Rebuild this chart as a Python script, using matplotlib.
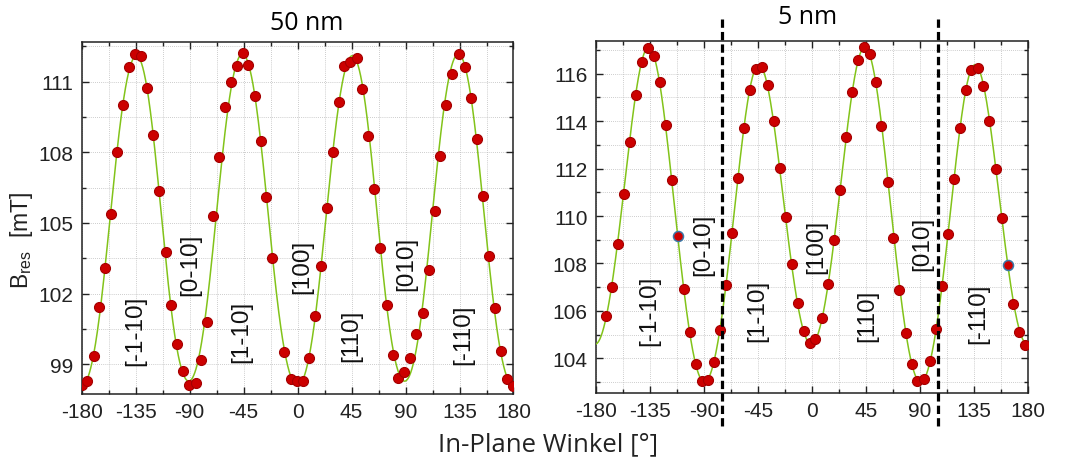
import numpy as np
import matplotlib
matplotlib.use("Agg")
import matplotlib.pyplot as plt
from matplotlib.ticker import MultipleLocator, FixedLocator
from matplotlib.transforms import blended_transform_factory

plt.rcParams["font.family"] = ["Liberation Sans", "DejaVu Sans"]
plt.rcParams["axes.unicode_minus"] = False
plt.rcParams["mathtext.fontset"] = "custom"
plt.rcParams["mathtext.rm"] = "Liberation Sans"

# ---------------- 50 nm film: resonance field vs in-plane angle ----------------
angle_50nm = [-180.0, -175.3, -170.0, -165.3, -160.3, -155.3, -150.3, -145.3, -140.3,
              -135.3, -130.3, -125.3, -120.3, -115.3, -110.0, -105.3, -100.3, -95.3,
              -90.3, -85.0, -80.6, -75.6, -70.6, -65.6, -60.3, -55.6, -50.6, -45.6,
              -41.1, -35.6, -30.6, -26.4, -21.1, -11.4, -5.8, -0.6, 4.4, 9.4, 14.4,
              19.2, 24.7, 29.2, 34.7, 38.9, 43.6, 49.2, 53.9, 58.9, 63.9, 68.6, 74.2,
              79.2, 83.3, 88.9, 93.9, 98.6, 104.2, 109.7, 114.4, 118.6, 123.6, 128.6,
              134.7, 139.7, 144.4, 149.4, 154.4, 159.2, 164.4, 169.2, 174.2, 179.7]
bres_50nm = [98.11, 98.29, 99.35, 101.41, 103.10, 105.38, 108.01, 110.01, 111.61,
             112.20, 112.08, 110.72, 108.74, 106.36, 103.78, 101.53, 99.85, 98.70,
             98.11, 98.18, 99.18, 100.80, 105.30, 107.82, 109.91, 111.00, 111.65, 112.22,
             111.71, 110.41, 108.49, 106.10, 103.53, 99.50, 98.36, 98.29, 98.29, 99.25, 101.05,
             103.18, 105.62, 108.01, 110.15, 111.68, 111.86, 112.00, 110.69, 108.71, 106.44, 103.95, 101.50,
             99.40, 98.39, 98.65, 99.28, 100.30, 101.17, 103.00, 105.51, 107.86, 110.02, 111.35,
             112.20, 111.64, 110.32, 108.58, 106.13, 103.60, 101.40, 99.54, 98.35, 98.07]

# ---------------- 5 nm film ----------------
angle_5nm = [-171.3, -166.6, -161.6, -156.6, -151.6, -146.7, -141.4, -136.7, -131.7,
             -126.4, -121.7, -116.4, -106.2, -101.5, -96.5, -91.8, -86.2, -81.8,
             -76.2, -71.2, -66.5, -61.8, -56.6, -51.8, -46.6, -41.6, -36.9, -31.6, -26.9,
             -21.6, -16.6, -11.9, -6.9, -1.9, 2.8, 8.3, 13.3, 18.0, 23.6, 28.3, 33.3,
             38.3, 43.0, 48.0, 53.2, 57.7, 63.2, 67.9, 72.9, 78.5, 83.4, 87.9, 93.4,
             98.4, 103.1, 108.4, 113.1, 118.4, 123.4, 128.1, 132.5, 138.1, 142.8, 147.8,
             153.0, 158.0, 167.7, 172.7, 177.4]
bres_5nm = [105.77, 107.01, 108.82, 110.94, 113.13, 115.11, 116.49, 117.07, 116.76,
            115.63, 113.83, 111.51, 106.94, 105.10, 103.75, 103.04, 103.10, 103.83,
            105.21, 107.10, 109.30, 111.62, 113.73, 115.32, 116.20, 116.30, 115.54, 114.01, 112.01,
            109.96, 107.99, 106.32, 105.15, 104.63, 104.82, 105.69, 107.14, 108.97, 111.10, 113.31, 115.24,
            116.59, 117.11, 116.82, 115.66, 113.79, 111.45, 109.08, 106.87, 105.06, 103.76, 103.03, 103.11,
            103.87, 105.24, 107.07, 109.24, 111.55, 113.70, 115.31, 116.14, 116.24, 115.46, 113.99,
            112.00, 109.92, 106.30, 105.13, 104.56]
# two points of the 5 nm series drawn with a blue rim
angle_5nm_rim = [-111.7, 163.0]
bres_5nm_rim = [109.14, 107.94]

# crystal directions written into the panels
dir_labels = ["[-1-10]", "[0-10]", "[1-10]", "[100]", "[110]", "[010]", "[-110]"]
dir_angle_50nm = [-135.3, -89.7, -46.7, 3.7, 45.0, 90.2, 138.0]
dir_bres_50nm = [100.45, 103.25, 100.41, 103.17, 100.25, 103.29, 100.30]
dir_angle_5nm = [-135.8, -90.1, -45.7, 3.6, 45.7, 91.5, 138.6]
dir_bres_5nm = [106.06, 108.83, 106.05, 108.76, 105.84, 108.87, 105.91]

# dashed marker lines in the 5 nm panel
dashed_angles_5nm = [-75.0, 105.0]

x_ticks = [-180, -135, -90, -45, 0, 45, 90, 135, 180]
y_ticks_50nm = [99, 102, 105, 108, 111]
y_ticks_5nm = [104, 106, 108, 110, 112, 114, 116]

PT_RED = "#cc0000"
PT_EDGE = "#a40000"
FIT_GREEN = "#82c31a"
TITLE_FONT = ["Open Sans", "DejaVu Sans"]


def harmonic_fit(phi_deg, b, orders=(2, 4, 6, 8, 12)):
    """Least-squares Fourier fit of an anisotropy curve B(phi)."""
    def design(p):
        cols = [np.ones_like(p)]
        for k in orders:
            cols += [np.cos(k * p), np.sin(k * p)]
        return np.column_stack(cols)
    phi = np.radians(np.asarray(phi_deg, float))
    coef, *_ = np.linalg.lstsq(design(phi), np.asarray(b, float), rcond=None)
    grid = np.linspace(-180, 180, 1441)
    return grid, design(np.radians(grid)) @ coef


def style_axes(ax, yticks, yminor, ylim):
    ax.set_xlim(-180, 180)
    ax.set_ylim(*ylim)
    ax.xaxis.set_major_locator(FixedLocator(x_ticks))
    ax.xaxis.set_minor_locator(MultipleLocator(22.5))
    ax.yaxis.set_major_locator(FixedLocator(yticks))
    ax.yaxis.set_minor_locator(MultipleLocator(yminor))
    ax.tick_params(which="both", direction="in", top=True, right=True,
                   width=1.0, colors="#222222")
    ax.tick_params(which="major", length=5, labelsize=15, pad=6)
    ax.tick_params(which="minor", length=3)
    ax.grid(True, which="both", linestyle=(0, (1, 1.5)), linewidth=0.6,
            color="#bcbcbc")
    ax.set_axisbelow(True)
    for sp in ax.spines.values():
        sp.set_linewidth(1.1)
        sp.set_color("#222222")


def draw_panel(ax, ang, b, extra_ang, extra_b, labels_a, labels_b):
    fit_x, fit_y = harmonic_fit(list(ang) + list(extra_ang), list(b) + list(extra_b))
    ax.plot(fit_x, fit_y, color=FIT_GREEN, lw=1.1, zorder=3)
    ax.plot(ang, b, "o", ms=7.2, mfc=PT_RED, mec=PT_EDGE, mew=0.8, zorder=4)
    if extra_ang:
        ax.plot(extra_ang, extra_b, "o", ms=7.2, mfc=PT_RED, mec="#3a78a8",
                mew=1.1, zorder=4)
    for txt, a, v in zip(dir_labels, labels_a, labels_b):
        ax.text(a, v, txt, rotation=90, ha="center", va="center",
                fontsize=17.5, color="#111111", zorder=5)


fig = plt.figure(figsize=(10.68, 4.64), dpi=100)
ax1 = fig.add_axes([0.0765, 0.1487, 0.4043, 0.7586])
ax2 = fig.add_axes([0.5578, 0.1509, 0.4048, 0.7592])

draw_panel(ax1, angle_50nm, bres_50nm, [], [], dir_angle_50nm, dir_bres_50nm)
draw_panel(ax2, angle_5nm, bres_5nm, angle_5nm_rim, bres_5nm_rim,
           dir_angle_5nm, dir_bres_5nm)

style_axes(ax1, y_ticks_50nm, 1.5, (97.73, 112.69))
style_axes(ax2, y_ticks_5nm, 1.0, (102.54, 117.39))

# dashed guide lines reaching beyond the 5 nm frame
trans = blended_transform_factory(ax2.transData, fig.transFigure)
for a in dashed_angles_5nm:
    ax2.plot([a, a], [1 - 20 / 464, 1 - 428 / 464], transform=trans,
             color="black", lw=2.3, linestyle=(0, (2.6, 1.3)),
             clip_on=False, zorder=6)

fig.text(307 / 1068, 1 - 23 / 464, "50 nm", ha="center", va="center",
         fontsize=18, family=TITLE_FONT)
fig.text(808 / 1068, 1 - 18 / 464, "5 nm", ha="center", va="center",
         fontsize=18, family=TITLE_FONT)
fig.text(548 / 1068, 1 - 445 / 464, "In-Plane Winkel [°]", ha="center",
         va="center", fontsize=18.5, family=TITLE_FONT, color="#222222")
fig.text(22 / 1068, 1 - 240 / 464, r"$\mathregular{B_{res}}$  [mT]",
         rotation=90, ha="center", va="center", fontsize=16.5, color="#222222")

fig.savefig("out.png", dpi=100)
